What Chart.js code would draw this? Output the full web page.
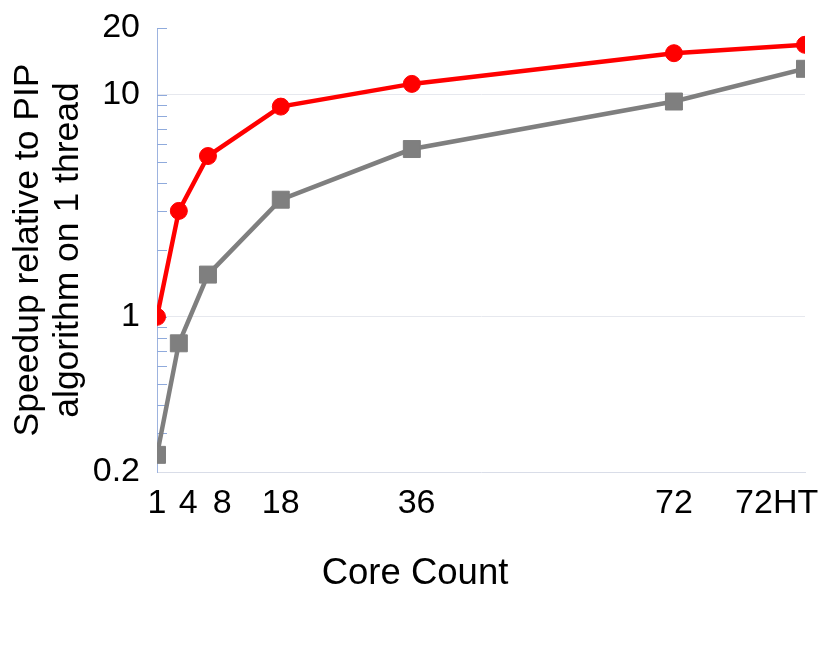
<!DOCTYPE html>
<html>
<head>
<meta charset="utf-8">
<script src="https://cdn.jsdelivr.net/npm/chart.js@4/dist/chart.umd.min.js"></script>
<style>
  html, body { margin: 0; padding: 0; background: #ffffff; }
  #wrap { width: 830px; height: 664px; }
</style>
</head>
<body>
<div id="wrap"><canvas id="speedupChart" width="830" height="664"></canvas></div>
<script>
const coreCounts = [1, 4, 8, 18, 36, 72, 90];
const coreLabels = ['1', '4', '8', '18', '36', '72', '72HT'];
const redSpeedup = [1.0, 3.0, 5.3, 8.85, 11.2, 15.4, 16.8];
const graySpeedup = [0.239, 0.76, 1.55, 3.37, 5.7, 9.33, 13.1];
const yTickValues = [0.2, 0.3, 0.4, 0.5, 0.6, 0.7, 0.8, 0.9, 1, 2, 3, 4, 5, 6, 7, 8, 9, 10, 20];
const yLabelValues = [0.2, 1, 10, 20];
const yGridValues = [1, 10];

Chart.defaults.font.family = "'Liberation Sans', Arial, sans-serif";
Chart.defaults.color = '#000000';

// the original's x labels sit a little off their ticks; pad with spaces
const leadSpaces = { 4: 2, 8: 3, 36: 1 };
const trailSpaces = { 90: 6 };

// short inward ticks along the left axis
const innerTicks = {
    id: 'innerTicks',
    beforeDatasetsDraw(chart) {
        const y = chart.scales.y;
        const ctx = chart.ctx;
        const left = chart.chartArea.left;
        ctx.save();
        ctx.strokeStyle = '#8faadc';
        ctx.lineWidth = 1;
        y.ticks.forEach(t => {
            if (t.value <= 0.2) return;
            const py = Math.round(y.getPixelForValue(t.value)) + 0.5;
            ctx.beginPath();
            ctx.moveTo(left, py);
            ctx.lineTo(left + 10, py);
            ctx.stroke();
        });
        ctx.restore();
    }
};

const points = (vals) => coreCounts.map((c, i) => ({ x: c, y: vals[i] }));

new Chart(document.getElementById('speedupChart').getContext('2d'), {
    type: 'line',
    data: {
        datasets: [{
            label: 'PIP',
            data: points(redSpeedup),
            borderColor: '#ff0000',
            backgroundColor: '#ff0000',
            borderWidth: 4.5,
            pointStyle: 'circle',
            pointRadius: 8.5,
            pointBorderWidth: 1,
            tension: 0
        }, {
            label: 'Baseline',
            data: points(graySpeedup),
            borderColor: '#7f7f7f',
            backgroundColor: '#7f7f7f',
            borderWidth: 4.5,
            pointStyle: 'rect',
            pointRadius: 12,
            pointBorderWidth: 1,
            tension: 0
        }]
    },
    options: {
        responsive: false,
        animation: false,
        layout: { padding: { top: 28, right: 0, bottom: 0, left: 0 } },
        plugins: {
            legend: { display: false },
            tooltip: { enabled: false },
            title: {
                display: true,
                position: 'bottom',
                text: 'Core Count',
                color: '#000000',
                font: { size: 36.5, weight: 'normal', lineHeight: 1.15 },
                padding: { top: 0, bottom: 69 }
            }
        },
        scales: {
            x: {
                type: 'linear',
                min: 1,
                max: 90,
                afterBuildTicks(scale) {
                    scale.ticks = coreCounts.map(v => ({ value: v }));
                },
                afterFit(scale) {
                    scale.height = 81;
                    scale.paddingLeft = 0;
                    scale.paddingRight = 25;
                },
                ticks: {
                    autoSkip: false,
                    maxRotation: 0,
                    padding: 11,
                    font: { size: 34 },
                    callback(value) {
                        const i = coreCounts.indexOf(value);
                        if (i < 0) return '';
                        return ' '.repeat(leadSpaces[value] || 0) + coreLabels[i] + ' '.repeat(trailSpaces[value] || 0);
                    }
                },
                grid: { display: false, drawTicks: false },
                border: { display: true, color: '#d9dde8', width: 1 }
            },
            y: {
                type: 'logarithmic',
                min: 0.2,
                max: 20,
                afterBuildTicks(scale) {
                    scale.ticks = yTickValues.map(v => ({ value: v }));
                },
                afterFit(scale) {
                    scale.width = 157;
                    scale.paddingTop = 0;
                    scale.paddingBottom = 0;
                },
                ticks: {
                    autoSkip: false,
                    padding: 17,
                    font: { size: 34 },
                    callback(value) {
                        return yLabelValues.includes(value) ? String(value) : '';
                    }
                },
                grid: {
                    drawTicks: false,
                    color(ctx) {
                        return ctx.tick && yGridValues.includes(ctx.tick.value) ? '#e6e8ee' : 'rgba(0,0,0,0)';
                    }
                },
                border: { display: true, color: '#9db3df', width: 1 },
                title: {
                    display: true,
                    text: ['Speedup relative to PIP', 'algorithm on 1 thread'],
                    font: { size: 35.5, lineHeight: 1.13 },
                    padding: { top: 8, bottom: 0 }
                }
            }
        }
    },
    plugins: [innerTicks]
});
</script>
</body>
</html>
